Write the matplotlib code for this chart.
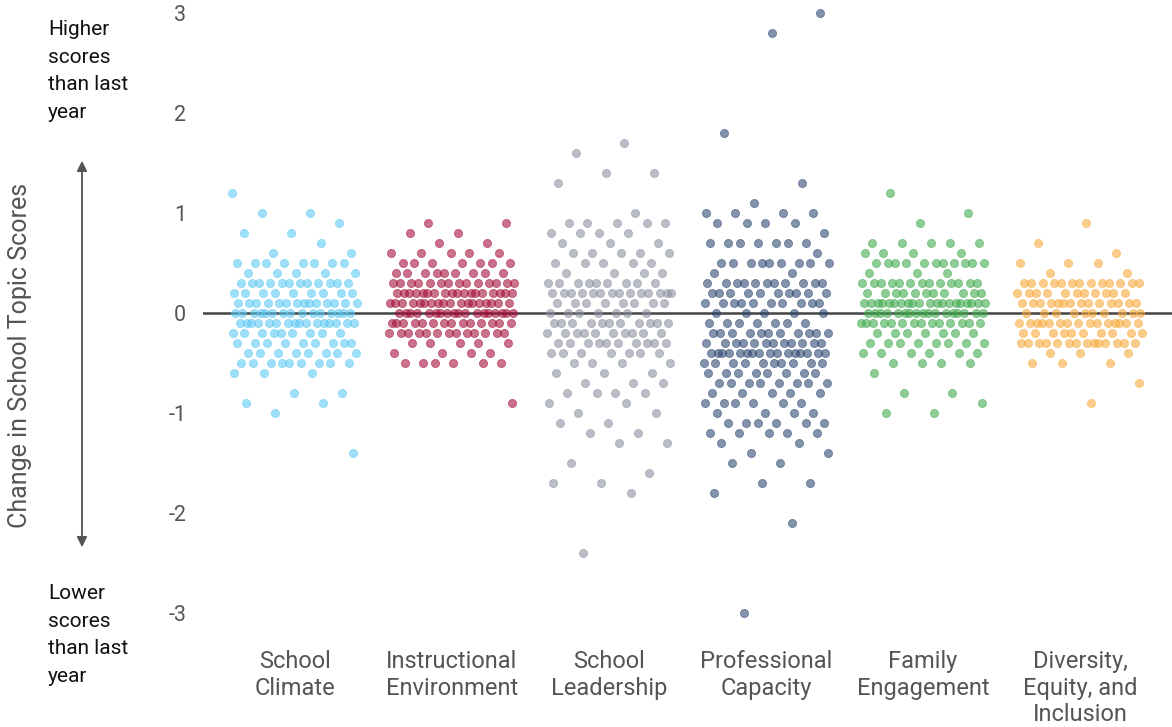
import matplotlib.pyplot as plt
import numpy as np

# categories and colours
categories = ["School\nClimate", "Instructional\nEnvironment", "School\nLeadership",
              "Professional\nCapacity", "Family\nEngagement", "Diversity,\nEquity, and\nInclusion"]
colors = ["#5BC8F5", "#A50D3A", "#8A8FA0", "#2B4570", "#3DAA4A", "#F9A93A"]

# score changes: level -> number of schools at that level
climate_levels = [1.2, 1.0, 0.9, 0.8, 0.7, 0.6, 0.5, 0.4, 0.3, 0.2, 0.1, 0.0, -0.1, -0.2, -0.3, -0.4, -0.5, -0.6, -0.8, -0.9, -1.0, -1.4]
climate_counts = [1, 2, 1, 2, 1, 2, 8, 5, 12, 9, 14, 15, 16, 9, 9, 8, 9, 3, 2, 2, 1, 1]

instr_levels = [0.9, 0.8, 0.7, 0.6, 0.5, 0.4, 0.3, 0.2, 0.1, 0.0, -0.1, -0.2, -0.3, -0.4, -0.5, -0.9]
instr_counts = [2, 2, 2, 5, 7, 9, 14, 18, 18, 18, 14, 13, 5, 4, 6, 1]

lead_levels = [1.7, 1.6, 1.4, 1.3, 1.0, 0.9, 0.8, 0.7, 0.6, 0.5, 0.4, 0.3, 0.2, 0.1, 0.0, -0.1, -0.2, -0.3,
               -0.4, -0.5, -0.6, -0.7, -0.8, -0.9, -1.0, -1.1, -1.2, -1.3, -1.5, -1.6, -1.7, -1.8, -2.4]
lead_counts = [1, 1, 2, 1, 1, 5, 4, 3, 5, 5, 4, 9, 14, 8, 7, 11, 10, 10,
               7, 4, 3, 3, 4, 2, 2, 2, 2, 2, 1, 1, 2, 1, 1]

prof_levels = [3.0, 2.8, 1.8, 1.3, 1.1, 1.0, 0.9, 0.8, 0.7, 0.6, 0.5, 0.4, 0.3, 0.2, 0.1, 0.0, -0.1, -0.2,
               -0.3, -0.4, -0.5, -0.6, -0.7, -0.8, -0.9, -1.0, -1.1, -1.2, -1.3, -1.4, -1.5, -1.7, -1.8, -2.1, -3.0]
prof_counts = [1, 1, 1, 1, 1, 4, 4, 1, 7, 1, 9, 2, 11, 10, 10, 5, 7, 11,
               12, 16, 10, 8, 8, 5, 6, 4, 6, 5, 2, 2, 2, 2, 1, 1, 1]

family_levels = [1.2, 1.0, 0.9, 0.7, 0.6, 0.5, 0.4, 0.3, 0.2, 0.1, 0.0, -0.1, -0.2, -0.3, -0.4, -0.5, -0.6, -0.8, -0.9, -1.0]
family_counts = [1, 1, 1, 5, 4, 11, 3, 13, 11, 20, 17, 14, 7, 8, 6, 4, 1, 2, 1, 2]

dei_levels = [0.9, 0.7, 0.6, 0.5, 0.4, 0.3, 0.2, 0.1, 0.0, -0.1, -0.2, -0.3, -0.4, -0.5, -0.7, -0.9]
dei_counts = [1, 1, 1, 3, 2, 13, 11, 14, 10, 15, 10, 14, 3, 3, 1, 1]

all_levels = [climate_levels, instr_levels, lead_levels, prof_levels, family_levels, dei_levels]
all_counts = [climate_counts, instr_counts, lead_counts, prof_counts, family_counts, dei_counts]

fig = plt.figure(figsize=(11.72, 7.27), dpi=100)
ax = fig.add_axes([0.1732, 0.1362, 0.8268, 0.8597])

ax.axhline(0, color="#444444", lw=1.8, zorder=1)

for i, (lv, ct, c) in enumerate(zip(all_levels, all_counts, colors)):
    y = np.repeat(lv, ct)
    # deterministic jitter (golden-ratio sequence) to spread the points sideways
    k = np.arange(len(y))
    jit = ((k * 0.6180339887 + 0.31 * i) % 1.0 - 0.5) * 0.8
    ax.scatter(i + jit, y, s=34, color=c, alpha=0.58, edgecolors=c, linewidths=0.6, zorder=2)

ax.set_xlim(-0.586, 5.586)
ax.set_ylim(-3.15, 3.1)
ax.set_yticks([3, 2, 1, 0, -1, -2, -3])
ax.set_yticklabels(["3", "2", "1", "0", "-1", "-2", "-3"], fontsize=15.5, color="#555555",
                   family=["Roboto", "DejaVu Sans"])
ax.set_xticks(range(6))
ax.set_xticklabels(categories, fontsize=17, color="#555555", family=["Roboto", "DejaVu Sans"],
                   linespacing=1.2)
ax.tick_params(axis="both", length=0)
ax.tick_params(axis="y", pad=12)
ax.tick_params(axis="x", pad=16)
for s in ax.spines.values():
    s.set_visible(False)

fig.text(20 / 1172, 1 - 355 / 727, "Change in School Topic Scores", rotation=90, ha="center", va="center",
         fontsize=18, color="#555555", family=["Roboto", "DejaVu Sans"])

fig.text(48 / 1172, 1 - 20 / 727, "Higher\nscores\nthan last\nyear", ha="left", va="top",
         fontsize=15, color="#111111", family=["Roboto", "DejaVu Sans"], linespacing=1.57)
fig.text(48 / 1172, 1 - 584 / 727, "Lower\nscores\nthan last\nyear", ha="left", va="top",
         fontsize=15, color="#111111", family=["Roboto", "DejaVu Sans"], linespacing=1.57)

fig.add_artist(plt.matplotlib.patches.FancyArrowPatch(
    (82 / 1172, 1 - 550 / 727), (82 / 1172, 1 - 158 / 727), transform=fig.transFigure,
    arrowstyle="<|-|>,head_length=6,head_width=3", color="#555555", lw=1.3))

fig.savefig("out.png", dpi=100)
